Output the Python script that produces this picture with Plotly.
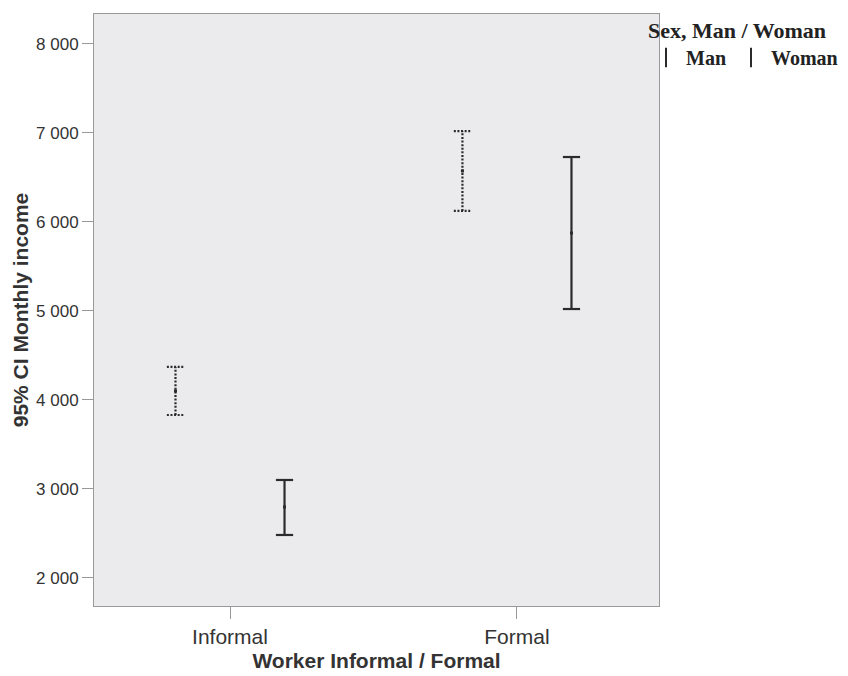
import plotly.graph_objects as go

categories = ["Informal", "Formal"]
series = ["Man", "Woman"]
man_mean = [4101, 6573]
man_lo = [3831, 6124]
man_hi = [4371, 7022]
woman_mean = [2798, 5876]
woman_lo = [2483, 5022]
woman_hi = [3101, 6730]
y_ticks = [2000, 3000, 4000, 5000, 6000, 7000, 8000]
y_tick_labels = ["2 000", "3 000", "4 000", "5 000", "6 000", "7 000", "8 000"]

offset = 0.19
cap = 0.03
color = "#2b2b2b"

def bar_path(xs, lo, hi):
    px, py = [], []
    for x, l, h in zip(xs, lo, hi):
        px += [x, x, None, x - cap, x + cap, None, x - cap, x + cap, None]
        py += [l, h, None, l, l, None, h, h, None]
    return px, py

fig = go.Figure()
groups = [
    ("Man", man_mean, man_lo, man_hi, -offset, "2px,1.6px", 2.2),
    ("Woman", woman_mean, woman_lo, woman_hi, offset, "solid", 2.2),
]
for name, mean, lo, hi, off, dash, w in groups:
    xs = [i + off for i in range(len(categories))]
    px, py = bar_path(xs, lo, hi)
    fig.add_trace(go.Scatter(x=px, y=py, mode="lines", showlegend=False,
                             line=dict(color=color, width=w, dash=dash),
                             hoverinfo="skip"))
    fig.add_trace(go.Scatter(x=xs, y=mean, mode="markers", showlegend=False,
                             marker=dict(color=color, size=3, symbol="square"),
                             name=name))
    fig.add_trace(go.Scatter(x=[None], y=[None], mode="markers", name=f"<b>{name}</b>",
                             marker=dict(symbol="line-ns-open", size=14, color=color,
                                         line=dict(color=color, width=2))))

fig.update_layout(
    width=840, height=668,
    margin=dict(l=86, r=189, t=6, b=70, autoexpand=False),
    paper_bgcolor="white",
    plot_bgcolor="#ebebed",
    font=dict(family="Liberation Sans, Arial, sans-serif", size=16, color="#333333"),
    xaxis=dict(
        range=[-0.474, 1.495], automargin=False,
        tickmode="array", tickvals=list(range(len(categories))), ticktext=categories,
        ticks="outside", ticklen=12, tickcolor="#999999", tickwidth=1,
        showgrid=False, zeroline=False,
        showline=True, linecolor="#999999", mirror=True, linewidth=1,
        tickfont=dict(size=21, color="#333333"),
        title=dict(text="<b>Worker Informal / Formal</b>", font=dict(size=21, color="#333333"), standoff=6),
    ),
    yaxis=dict(
        range=[1685, 8337], automargin=False,
        tickmode="array", tickvals=y_ticks, ticktext=y_tick_labels,
        ticks="outside", ticklen=11, tickcolor="#999999", tickwidth=1,
        showgrid=False, zeroline=False,
        showline=True, linecolor="#999999", mirror=True, linewidth=1,
        tickfont=dict(size=17, color="#333333"),
        title=dict(text="<b>95% CI Monthly income</b>", font=dict(size=21, color="#333333"), standoff=1),
    ),
    legend=dict(
        xref="container", yref="container",
        x=638 / 840, y=0.998, xanchor="left", yanchor="top",
        orientation="h",
        title=dict(text="<b>Sex, Man / Woman</b>", side="top",
                   font=dict(family="Liberation Serif, Times New Roman, serif", size=22, color="#222222")),
        font=dict(family="Liberation Serif, Times New Roman, serif", size=20, color="#222222"),
        bgcolor="rgba(0,0,0,0)",
        itemwidth=30,
    ),
)

fig.write_html("out.html")
